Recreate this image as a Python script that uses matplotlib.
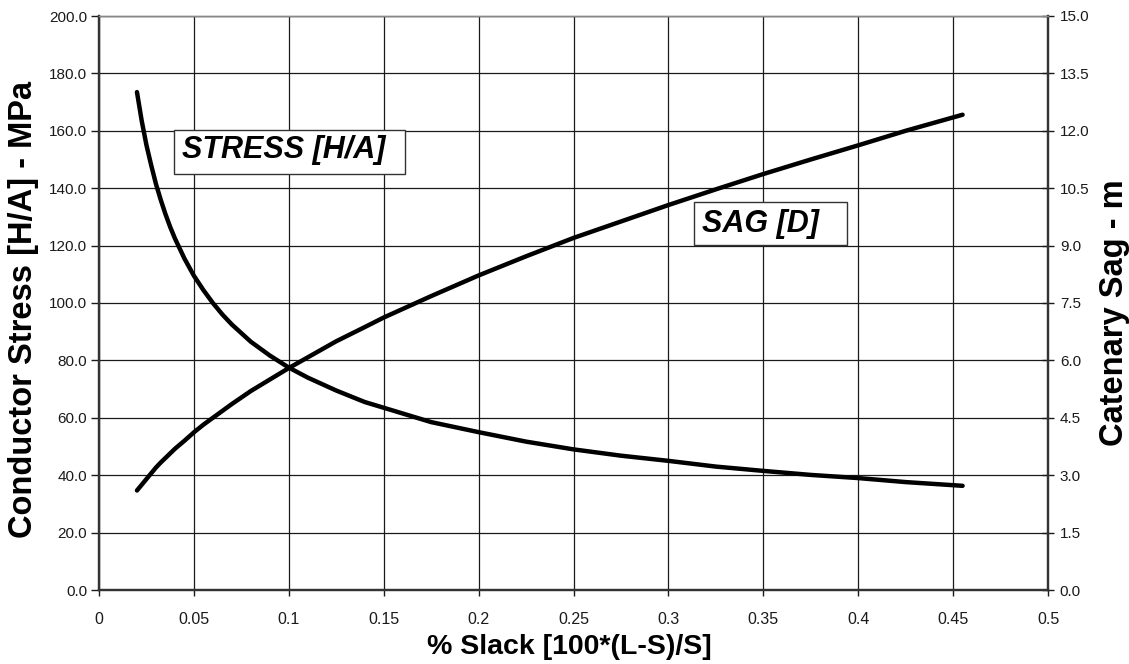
import matplotlib
matplotlib.use("Agg")
import matplotlib.pyplot as plt
from matplotlib.patches import Rectangle
from matplotlib.ticker import FuncFormatter

plt.rcParams['font.family'] = ['Liberation Sans', 'DejaVu Sans']

slack = [0.02, 0.0225, 0.025, 0.0275, 0.03, 0.0325, 0.035, 0.0375, 0.04, 0.045,
         0.05, 0.055, 0.06, 0.065, 0.07, 0.075, 0.08, 0.09, 0.1, 0.11,
         0.125, 0.14, 0.15, 0.175, 0.2, 0.225, 0.25, 0.275, 0.3, 0.325,
         0.35, 0.375, 0.4, 0.425, 0.455]
stress_mpa = [173.5, 163.5, 155.0, 148.0, 141.5, 136.0, 131.0, 126.5, 122.5, 115.5,
              109.5, 104.5, 100.0, 96.0, 92.5, 89.5, 86.5, 81.7, 77.5, 74.0,
              69.5, 65.5, 63.5, 58.5, 55.0, 51.7, 49.0, 46.8, 45.0, 43.0,
              41.5, 40.1, 39.0, 37.6, 36.3]
sag_m = [2.6, 2.75, 2.9, 3.05, 3.2, 3.33, 3.45, 3.57, 3.69, 3.9,
         4.12, 4.32, 4.5, 4.68, 4.86, 5.03, 5.2, 5.5, 5.8, 6.08,
         6.5, 6.87, 7.12, 7.68, 8.22, 8.72, 9.2, 9.63, 10.06, 10.47,
         10.87, 11.25, 11.62, 12.0, 12.42]

x_ticks = [0, 0.05, 0.1, 0.15, 0.2, 0.25, 0.3, 0.35, 0.4, 0.45, 0.5]
x_tick_labels = ["0", "0.05", "0.1", "0.15", "0.2", "0.25", "0.3", "0.35", "0.4", "0.45", "0.5"]
left_ticks = [0, 20, 40, 60, 80, 100, 120, 140, 160, 180, 200]
right_ticks = [0, 1.5, 3.0, 4.5, 6.0, 7.5, 9.0, 10.5, 12.0, 13.5, 15.0]

W, H = 1129, 664
fig = plt.figure(figsize=(W / 100, H / 100), dpi=100)
ax = fig.add_axes([99 / W, (H - 590) / H, (1048 - 99) / W, (590 - 16) / H])
ax2 = ax.twinx()

ax.set_xlim(0, 0.5)
ax.set_ylim(0, 200)
ax2.set_ylim(0, 15)

ax.set_xticks(x_ticks)
ax.set_xticklabels(x_tick_labels)
ax.set_yticks(left_ticks)
ax.yaxis.set_major_formatter(FuncFormatter(lambda v, p: f"{v:.1f}"))
ax2.set_yticks(right_ticks)
ax2.yaxis.set_major_formatter(FuncFormatter(lambda v, p: f"{v:.1f}"))

ax.grid(True, color='#1a1a1a', linewidth=0.9)
ax.set_axisbelow(True)

ax.tick_params(axis='y', direction='out', length=5.5, width=1, labelsize=11, pad=3, colors='#1a1a1a')
ax.tick_params(axis='x', direction='out', length=4, width=1, labelsize=11.5, pad=12, colors='#1a1a1a')
ax2.tick_params(axis='y', direction='inout', length=9, width=1, labelsize=11, pad=4, colors='#1a1a1a')

for a in (ax, ax2):
    a.spines['top'].set_color('#888888')
    a.spines['top'].set_linewidth(1)
    for s in ('left', 'right', 'bottom'):
        a.spines[s].set_color('#333333')
        a.spines[s].set_linewidth(1.6)

ax.plot(slack, stress_mpa, color='black', linewidth=3.2, solid_capstyle='round',
        solid_joinstyle='round', zorder=5)
ax2.plot(slack, sag_m, color='black', linewidth=3.2, solid_capstyle='round',
         solid_joinstyle='round', zorder=5)

# axis titles
fig.text(569 / W, (H - 654) / H, "% Slack [100*(L-S)/S]", fontsize=20.5,
         fontweight='bold', ha='center', va='baseline')
fig.text(24 / W, (H - 310) / H, "Conductor Stress [H/A] - MPa", fontsize=23.5,
         fontweight='bold', ha='center', va='center', rotation=90)
fig.text(1114 / W, (H - 313) / H, "Catenary Sag - m", fontsize=23.5,
         fontweight='bold', ha='center', va='center', rotation=90)

# annotation boxes
ax2.add_patch(Rectangle((0.079, 0.725), 0.2435, 0.076, transform=ax2.transAxes,
                        facecolor='white', edgecolor='#333333', linewidth=1, zorder=6))
ax2.text(0.0875, 0.7526, "STRESS [H/A]", transform=ax2.transAxes, fontsize=22,
         fontweight='bold', fontstyle='italic', va='baseline', ha='left', zorder=7)
ax2.add_patch(Rectangle((0.627, 0.601), 0.161, 0.075, transform=ax2.transAxes,
                        facecolor='white', edgecolor='#333333', linewidth=1, zorder=6))
ax2.text(0.6354, 0.624, "SAG [D]", transform=ax2.transAxes, fontsize=22,
         fontweight='bold', fontstyle='italic', va='baseline', ha='left', zorder=7)

fig.savefig("out.png", dpi=100)
